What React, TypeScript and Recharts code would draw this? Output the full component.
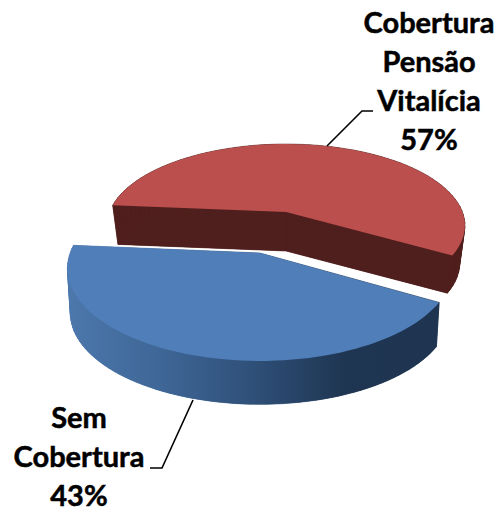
import { Pie, PieChart } from 'recharts'

const categories = ['Cobertura Pensão Vitalícia', 'Sem Cobertura']
const shares = [57, 43]

const labelLines = [
  ['Cobertura', 'Pensão', 'Vitalícia'],
  ['Sem', 'Cobertura'],
]

const data = categories.map((name, i) => ({ name, value: shares[i] }))

const WIDTH = 497
const HEIGHT = 509
const CX = 274
const CY = 232
const RADIUS = 180
const PERSPECTIVE = 0.166

// how each slice sits relative to the pie centre
const sliceLook = [
  { dx: 12, dy: -20, scale: 0.98, tilt: 0.449, depth: 39, shrink: 0.97, top: '#bb4f4d', wall: '#4f1f1d' },
  { dx: -14, dy: 21, scale: 1.055, tilt: 0.474, depth: 45, shrink: 0.985, top: '#4f7eb9', wall: 'url(#blueWall)' },
]

const labelLook = [
  { x: 429, y: 33, lead: [[327, 146], [362, 111], [373, 111]] },
  { x: 79, y: 428, lead: [[193, 400], [162, 468], [150, 468]] },
]

function project(a: number, r: number, look: (typeof sliceLook)[number], cx: number, cy: number) {
  const t = (a * Math.PI) / 180
  const w = 1 + PERSPECTIVE * Math.sin(t)
  return [cx + look.dx + (r * look.scale * Math.cos(t)) / w, cy + look.dy - (r * look.tilt * look.scale * Math.sin(t)) / w]
}

function Slice3D(props: any) {
  const { cx, cy, outerRadius, startAngle, endAngle } = props
  const look = sliceLook[categories.indexOf(props.name)]
  const apex = project(0, 0, look, cx, cy)
  const steps = 72
  const arc: number[][] = []
  for (let s = 0; s <= steps; s++) {
    arc.push(project(startAngle + ((endAngle - startAngle) * s) / steps, outerRadius, look, cx, cy))
  }
  const outline = [apex, ...arc]
  const lower = (p: number[]) => [
    apex[0] + (p[0] - apex[0]) * look.shrink,
    apex[1] + (p[1] - apex[1]) * look.shrink + look.depth,
  ]
  const toPath = (pts: number[][]) => pts.map((p, n) => `${n ? 'L' : 'M'}${p[0].toFixed(1)},${p[1].toFixed(1)}`).join('') + 'Z'
  const walls = outline.map((p, n) => {
    const q = outline[(n + 1) % outline.length]
    return toPath([p, q, lower(q), lower(p)])
  })
  return (
    <g>
      <defs>
        <linearGradient id="blueWall" gradientUnits="userSpaceOnUse" x1="66" y1="0" x2="436" y2="0">
          <stop offset="0" stopColor="#4c78ad" />
          <stop offset="0.25" stopColor="#3f6797" />
          <stop offset="0.5" stopColor="#2f5079" />
          <stop offset="0.75" stopColor="#1f3653" />
          <stop offset="1" stopColor="#1e3450" />
        </linearGradient>
      </defs>
      <path d={toPath(outline.map(lower))} fill={look.wall} />
      {walls.map((d, n) => (
        <path key={n} d={d} fill={look.wall} stroke={look.wall} strokeWidth={0.6} />
      ))}
      <path d={toPath(outline)} fill={look.top} />
    </g>
  )
}

function SliceLabel(props: any) {
  const i = categories.indexOf(props.name)
  const look = labelLook[i]
  const lines = [...labelLines[i], `${shares[i]}%`]
  return (
    <text
      x={look.x}
      y={look.y}
      textAnchor="middle"
      fontFamily="Lato"
      fontWeight={700}
      fontSize={29}
      fill="#000"
      stroke="#000"
      strokeWidth={0.5}
    >
      {lines.map((line, n) => (
        <tspan key={n} x={look.x} dy={n ? 39 : 0}>
          {line}
        </tspan>
      ))}
    </text>
  )
}

function SliceLeader(props: any) {
  const i = categories.indexOf(props.name)
  return (
    <polyline
      points={labelLook[i].lead.map((p) => p.join(',')).join(' ')}
      fill="none"
      stroke="#000"
      strokeWidth={1.6}
    />
  )
}

export default function App() {
  return (
    <div style={{ position: 'absolute', left: 0, top: 0, width: WIDTH, height: HEIGHT, overflow: 'hidden', background: '#fff' }}>
      <PieChart width={WIDTH} height={HEIGHT} margin={{ top: 0, right: 0, bottom: 0, left: 0 }}>
        <Pie
          data={data}
          dataKey="value"
          nameKey="name"
          cx={CX}
          cy={CY}
          innerRadius={0}
          outerRadius={RADIUS}
          startAngle={175}
          endAngle={-185}
          stroke="none"
          shape={Slice3D}
          label={SliceLabel}
          labelLine={SliceLeader}
          isAnimationActive={false}
        />
      </PieChart>
    </div>
  )
}
